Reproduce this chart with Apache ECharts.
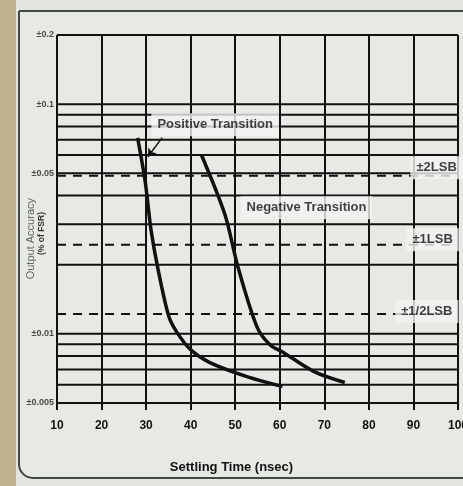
<!DOCTYPE html>
<html>
<head>
<meta charset="utf-8">
<script src="https://cdn.jsdelivr.net/npm/echarts@6/dist/echarts.min.js"></script>
<style>
html,body{margin:0;padding:0;background:#e4e4e0;overflow:hidden;}
#chart{width:463px;height:486px;}
</style>
</head>
<body>
<div id="chart"></div>
<script>
// ---- data ----
const xTicks = [10, 20, 30, 40, 50, 60, 70, 80, 90, 100];
const gridLevels = [0.2, 0.1, 0.09, 0.08, 0.07, 0.06, 0.05, 0.04, 0.03, 0.02, 0.01, 0.009, 0.008, 0.007, 0.006, 0.005];
const yTickValues = [0.2, 0.1, 0.05, 0.01, 0.005];
const yTickLabels = ['±0.2', '±0.1', '±0.05', '±0.01', '±0.005'];
const lsbLevels = [0.0488, 0.0244, 0.0122];
const lsbLabels = ['±2LSB', '±1LSB', '±1/2LSB'];
const positiveTime = [28.1, 29.8, 31.1, 32.7, 35.1, 37.0, 40.0, 44.3, 52.8, 60.6];
const positiveAccuracy = [0.0713, 0.0459, 0.0284, 0.019, 0.0119, 0.0101, 0.00853, 0.0075, 0.0065, 0.0059];
const negativeTime = [42.4, 47.7, 50.6, 54.9, 57.8, 60.8, 67.7, 74.6];
const negativeAccuracy = [0.0602, 0.033, 0.0196, 0.0107, 0.00897, 0.0083, 0.00685, 0.00614];
const seriesNames = ['Positive Transition', 'Negative Transition'];
const xTitle = 'Settling Time (nsec)';
const yTitle = ['Output Accuracy', '(% of FSR)'];

// annotation anchors (data space)
const notes = [
  { text: seriesNames[0], at: [45.5, 0.0813] },
  { text: seriesNames[1], at: [66.0, 0.0354] },
  { text: lsbLabels[0], at: [95.2, 0.0528] },
  { text: lsbLabels[1], at: [94.3, 0.0257] },
  { text: lsbLabels[2], at: [93.0, 0.0125] }
];
const arrow = [[33.6, 0.0715], [30.4, 0.0590]];

const chart = echarts.init(document.getElementById('chart'));
const font = '"Liberation Sans", Arial, sans-serif';
const zip = (a, b) => a.map((v, i) => [v, b[i]]);
const xMin = xTicks[0], xMax = xTicks[xTicks.length - 1];

// horizontal rules built as segments separated by gaps
const segs = levels => {
  const out = [];
  levels.forEach(v => { out.push([xMin, v], [xMax, v], '-'); });
  return out;
};

chart.setOption({
  backgroundColor: '#e4e4e0',
  animation: false,
  graphic: [
    { type: 'rect', shape: { x: 0, y: 0, width: 16, height: 486 }, style: { fill: '#bdb28c' }, z: -10 },
    { type: 'rect', shape: { x: 19, y: 11, width: 520, height: 467, r: [0, 0, 0, 14] },
      style: { fill: '#e8e8e5', stroke: '#3d4a3d', lineWidth: 2 }, z: -9 },
    { type: 'text', left: 25, top: 198, rotation: Math.PI / 2,
      style: { text: yTitle[0], fontSize: 11, fill: '#5a6a5a', fontFamily: font } },
    { type: 'text', left: 37, top: 212, rotation: Math.PI / 2,
      style: { text: yTitle[1], fontSize: 8.5, fontWeight: 'bold', fill: '#333', fontFamily: font } }
  ],
  grid: { left: 57, right: 5, top: 35, bottom: 83, outerBoundsMode: 'none', containLabel: false },
  xAxis: {
    type: 'value', min: xMin, max: xMax, interval: 10,
    name: xTitle, nameLocation: 'middle', nameGap: 58,
    nameTextStyle: { fontSize: 13, fontWeight: 'bold', color: '#111', fontFamily: font, padding: [0, 52, 0, 0] },
    axisLine: { show: false },
    axisTick: { show: true, length: 7, lineStyle: { color: '#111', width: 2 } },
    axisLabel: { fontSize: 12, fontWeight: 'bold', color: '#111', margin: 17, fontFamily: font,
      showMinLabel: true, showMaxLabel: true, hideOverlap: false },
    splitLine: { show: true, lineStyle: { color: '#111', width: 2 } }
  },
  yAxis: {
    type: 'log', logBase: 10, min: 0.005, max: 0.2,
    axisLine: { show: false }, axisTick: { show: false }, axisLabel: { show: false },
    splitLine: { show: false }, minorSplitLine: { show: false }
  },
  series: [
    {
      type: 'line', data: segs(gridLevels), connectNulls: false, symbol: 'none', silent: true,
      lineStyle: { color: '#111', width: 2 }, z: 2
    },
    {
      type: 'line', data: segs(lsbLevels), connectNulls: false, symbol: 'none', silent: true,
      lineStyle: { color: '#111', width: 2, type: [9, 7] }, z: 2
    },
    {
      type: 'scatter', symbolSize: 0, silent: true, z: 3,
      data: yTickValues.map((v, i) => ({ value: [xMin, v], name: yTickLabels[i] })),
      label: { show: true, position: 'left', distance: 3, formatter: p => p.name,
        fontSize: 9, fontWeight: 'bold', color: '#222', fontFamily: font }
    },
    {
      name: seriesNames[0], type: 'line', data: zip(positiveTime, positiveAccuracy),
      smooth: 0.3, symbol: 'none', lineStyle: { color: '#111', width: 3.5 }, z: 5
    },
    {
      name: seriesNames[1], type: 'line', data: zip(negativeTime, negativeAccuracy),
      smooth: 0.3, symbol: 'none', lineStyle: { color: '#111', width: 3.5 }, z: 5
    },
    {
      type: 'scatter', symbolSize: 0, z: 10, silent: true,
      data: notes.map(n => ({ value: n.at, name: n.text })),
      label: { show: true, position: 'inside', formatter: p => p.name,
        fontSize: 13, fontWeight: 'bold', color: '#111', fontFamily: font,
        backgroundColor: '#f3f3f1', padding: [5, 6] }
    },
    {
      type: 'scatter', data: [], silent: true, z: 11,
      markLine: { symbol: ['none', 'arrow'], symbolSize: 8, silent: true, animation: false,
        lineStyle: { color: '#111', width: 1.5, type: 'solid' }, label: { show: false },
        data: [[{ coord: arrow[0] }, { coord: arrow[1] }]] }
    }
  ]
});
</script>
</body>
</html>
